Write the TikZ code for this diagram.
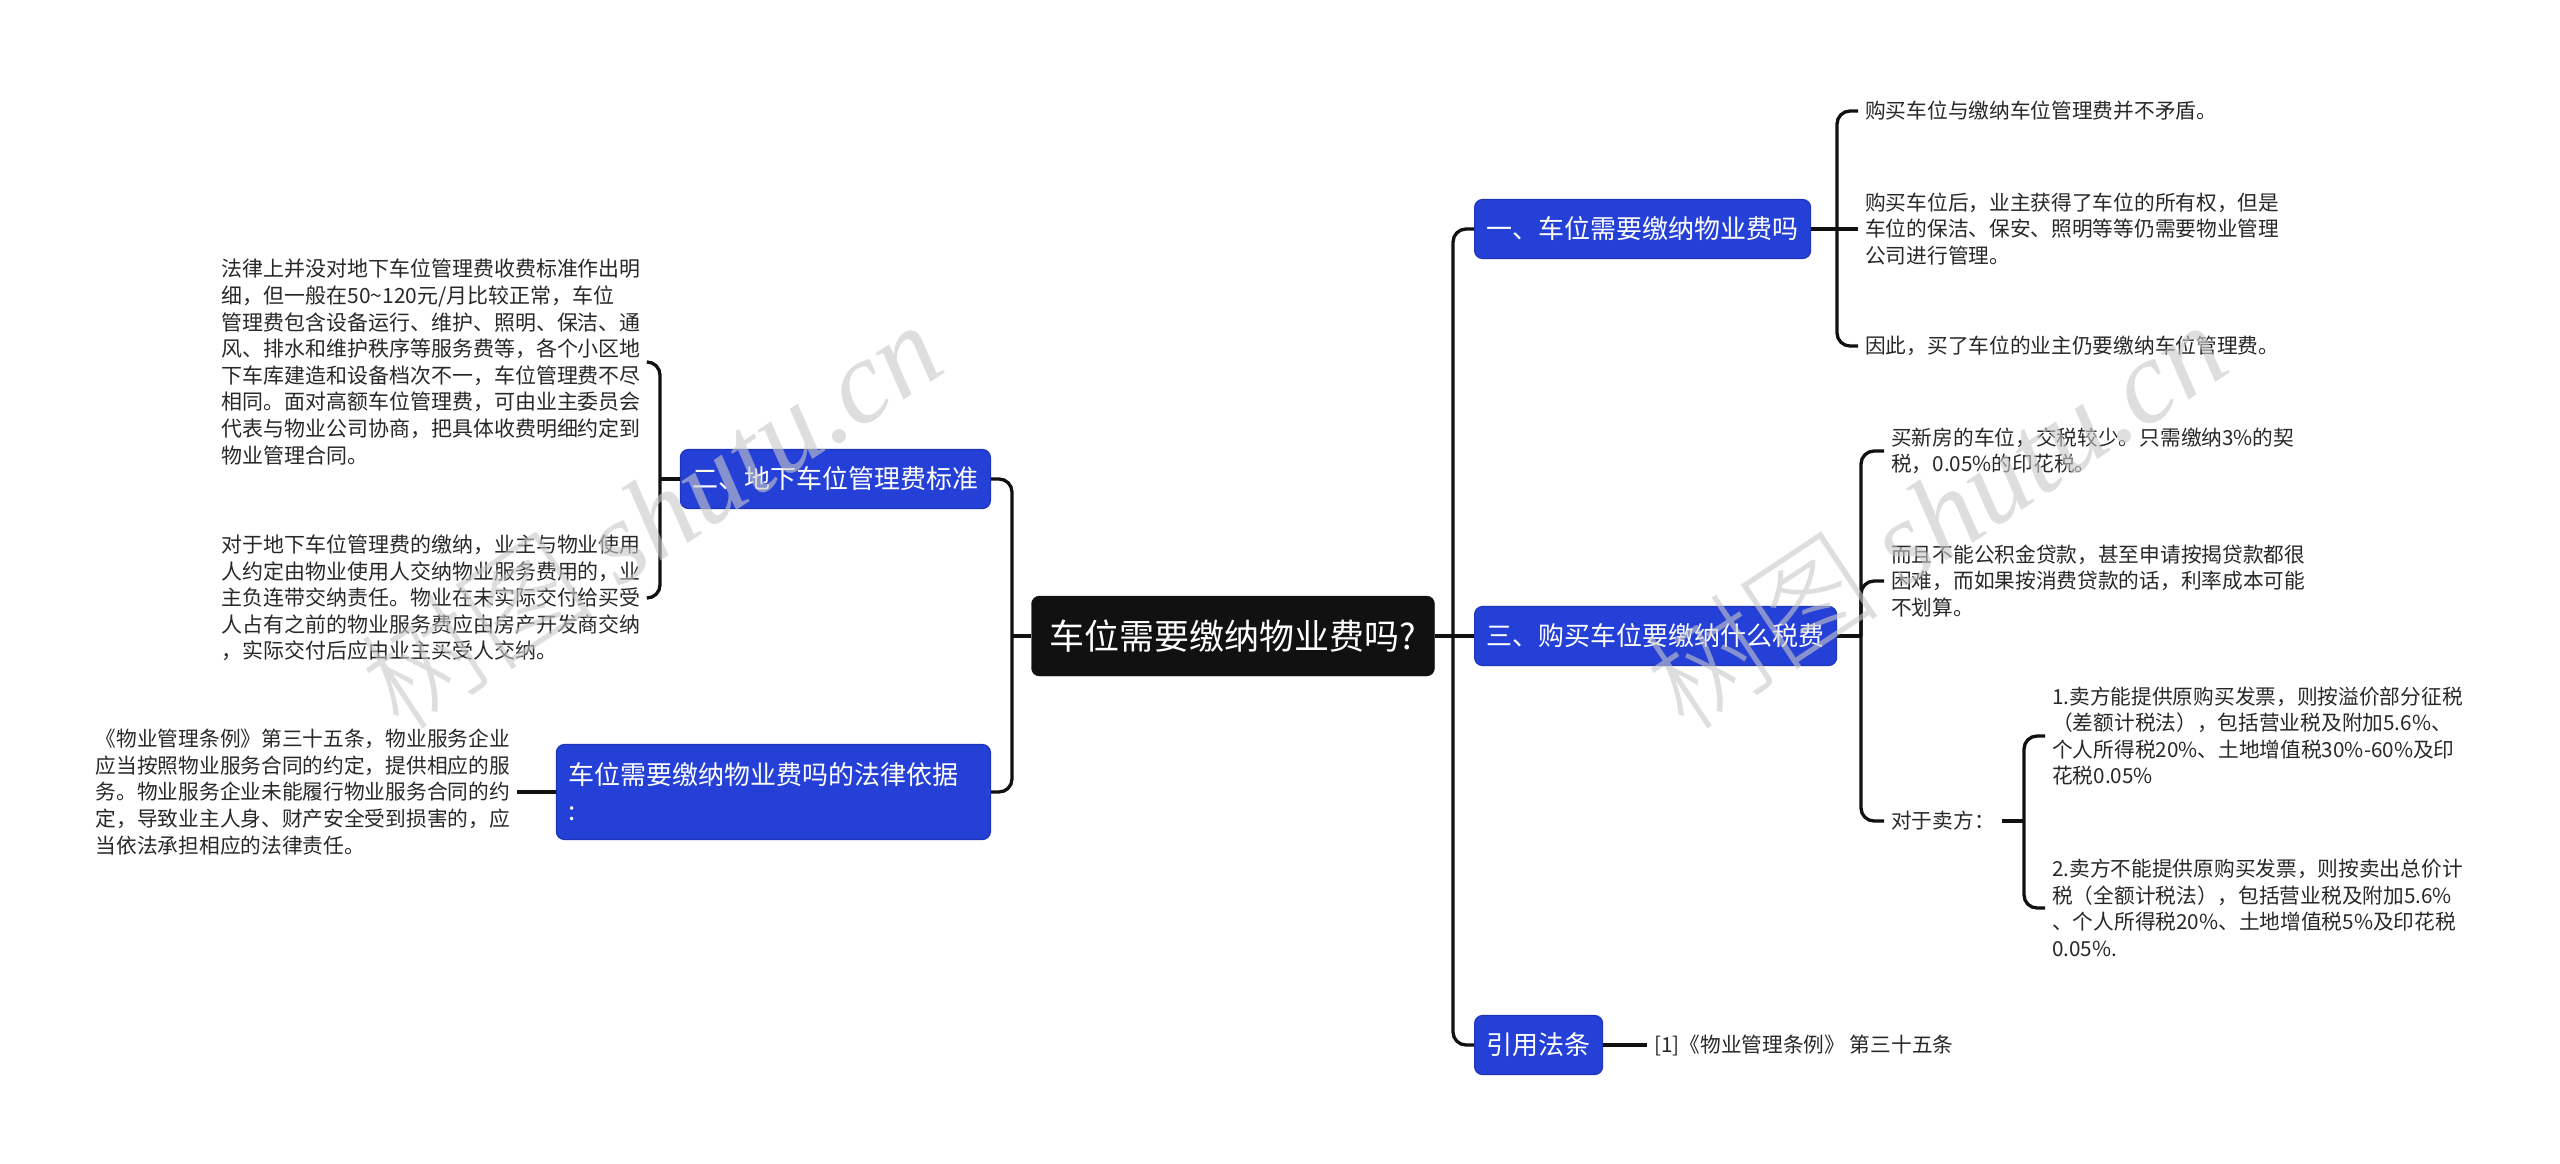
\documentclass[tikz,border=0pt]{standalone}
\usepackage{fontspec}
\setmainfont{Noto Sans CJK SC}
\newfontfamily\wmlat{Liberation Serif}
\newfontfamily\wmcjk{Noto Sans CJK SC Light}
\definecolor{bluec}{RGB}{37,64,215}
\definecolor{blueb}{RGB}{30,52,185}
\definecolor{rootc}{RGB}{17,17,17}
\definecolor{linec}{RGB}{17,17,17}
\definecolor{leafc}{RGB}{40,40,40}
\definecolor{wmc}{RGB}{200,200,200}
\tikzset{
  conn/.style={line width=3.3pt, draw=linec, rounded corners=13pt},
  rootbox/.style={fill=rootc, draw=rootc, rounded corners=8pt, text=white, font=\fontsize{35pt}{42pt}\selectfont, minimum width=403pt, minimum height=80pt, inner sep=0pt},
  topic/.style={fill=bluec, draw=blueb, line width=1.2pt, rounded corners=8pt, text=white, font=\fontsize{26pt}{36pt}\selectfont, inner xsep=12pt, inner ysep=0pt, minimum height=59pt, align=left},
  leaf/.style={text=leafc, font=\fontsize{20.7pt}{26.6pt}\selectfont, align=left, inner sep=7pt},
  leafL/.style={leaf, font=\fontsize{20.95pt}{26.6pt}\selectfont},
  wm/.style={text=wmc, text opacity=0.6, font=\fontsize{118pt}{130pt}\selectfont, inner sep=0pt}
}
\begin{document}
\begin{tikzpicture}[x=1pt,y=-1pt]
\useasboundingbox (0,0) rectangle (2560,1163);
\fill[white] (0,0) rectangle (2560,1163);
% root
\node[rootbox] (root) at (1233,636) {车位需要缴纳物业费吗?};
% right branches
\node[topic, anchor=west] (b1) at (1474,229) {一、车位需要缴纳物业费吗};
\node[topic, anchor=west] (b3) at (1474,636) {三、购买车位要缴纳什么税费};
\node[topic, anchor=west] (b4) at (1474,1045) {引用法条};
% left branches
\node[topic, anchor=east] (b2) at (991,479) {二、地下车位管理费标准};
\node[topic, anchor=east, text width=409pt, inner xsep=12.5pt, inner ysep=14pt, minimum height=95pt] (b5) at (991,792) {车位需要缴纳物业费吗的法律依据\\:};
% junction points
\coordinate (jR) at (1453,636);
\coordinate (jL) at (1012,636);
\coordinate (j1) at (1837,229);
\coordinate (j3) at (1861,636);
\coordinate (j33) at (2024,821);
\coordinate (j2) at (660,479);
% leaves of branch 1
\node[leaf, anchor=west] (c11) at (1858,111) {购买车位与缴纳车位管理费并不矛盾。};
\node[leaf, anchor=west] (c12) at (1858,229) {购买车位后，业主获得了车位的所有权，但是\\车位的保洁、保安、照明等等仍需要物业管理\\公司进行管理。};
\node[leaf, anchor=west] (c13) at (1858,346) {因此，买了车位的业主仍要缴纳车位管理费。};
% leaves of branch 3
\node[leaf, anchor=west] (c31) at (1884,451) {买新房的车位，交税较少。只需缴纳3\%的契\\税，0.05\%的印花税。};
\node[leaf, anchor=west] (c32) at (1884,581) {而且不能公积金贷款，甚至申请按揭贷款都很\\困难，而如果按消费贷款的话，利率成本可能\\不划算。};
\node[leaf, anchor=west] (c33) at (1884,821) {对于卖方：};
\node[leaf, anchor=west] (c331) at (2045,736) {1.卖方能提供原购买发票，则按溢价部分征税\\（差额计税法），包括营业税及附加5.6\%、\\个人所得税20\%、土地增值税30\%-60\%及印\\花税0.05\%};
\node[leaf, anchor=west] (c332) at (2045,908) {2.卖方不能提供原购买发票，则按卖出总价计\\税（全额计税法），包括营业税及附加5.6\%\\、个人所得税20\%、土地增值税5\%及印花税\\0.05\%.};
% leaf of branch 4
\node[leaf, anchor=west] (c41) at (1647,1045) {[1]《物业管理条例》 第三十五条};
% leaves of branch 2
\node[leafL, anchor=east] (c21) at (648,362) {法律上并没对地下车位管理费收费标准作出明\\细，但一般在50\textasciitilde 120元/月比较正常，车位\\管理费包含设备运行、维护、照明、保洁、通\\风、排水和维护秩序等服务费等，各个小区地\\下车库建造和设备档次不一，车位管理费不尽\\相同。面对高额车位管理费，可由业主委员会\\代表与物业公司协商，把具体收费明细约定到\\物业管理合同。};
\node[leafL, anchor=east] (c22) at (648,598) {对于地下车位管理费的缴纳，业主与物业使用\\人约定由物业使用人交纳物业服务费用的，业\\主负连带交纳责任。物业在未实际交付给买受\\人占有之前的物业服务费应由房产开发商交纳\\，实际交付后应由业主买受人交纳。};
% leaf of branch 5
\node[leaf, anchor=east] (c51) at (517,792) {《物业管理条例》第三十五条，物业服务企业\\应当按照物业服务合同的约定，提供相应的服\\务。物业服务企业未能履行物业服务合同的约\\定，导致业主人身、财产安全受到损害的，应\\当依法承担相应的法律责任。};
% connectors: root to branches
\draw[conn] (root.east) -- (jR);
\draw[conn] (jR) |- (b1.west);
\draw[conn] (jR) -- (b3.west);
\draw[conn] (jR) |- (b4.west);
\draw[conn] (root.west) -- (jL);
\draw[conn] (jL) |- (b2.east);
\draw[conn] (jL) |- (b5.east);
% branch 1
\draw[conn] (b1.east) -- (j1);
\draw[conn] (j1) |- (c11.west);
\draw[conn] (j1) -- (c12.west);
\draw[conn] (j1) |- (c13.west);
% branch 3
\draw[conn] (b3.east) -- (j3);
\draw[conn] (j3) |- (c31.west);
\draw[conn] (j3) |- (c32.west);
\draw[conn] (j3) |- (c33.west);
\draw[conn] (c33.east) -- (j33);
\draw[conn] (j33) |- (c331.west);
\draw[conn] (j33) |- (c332.west);
% branch 4
\draw[conn] (b4.east) -- (c41.west);
% branch 2
\draw[conn] (b2.west) -- (j2);
\draw[conn] (j2) |- (c21.east);
\draw[conn] (j2) |- (c22.east);
% branch 5
\draw[conn] (b5.west) -- (c51.east);
% watermarks (drawn over the diagram, translucent)
\node[wm, rotate=33.5] (wm1) at (650,514) {{\wmcjk 树图} {\wmlat\itshape shutu.cn}};
\node[wm, rotate=33.5] (wm2) at (1935,514) {{\wmcjk 树图} {\wmlat\itshape shutu.cn}};
\end{tikzpicture}
\end{document}
